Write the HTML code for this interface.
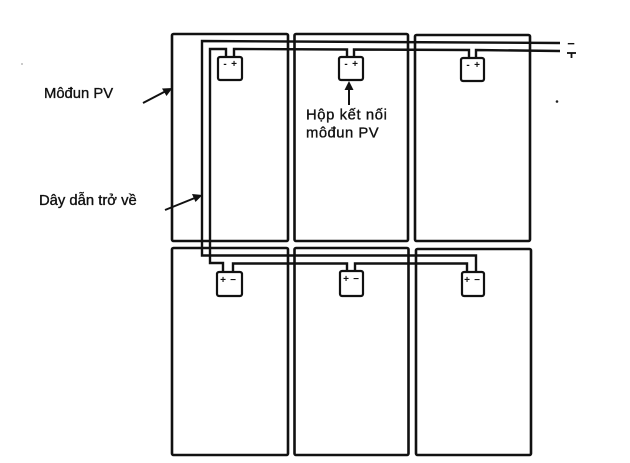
<!DOCTYPE html>
<html><head><meta charset="utf-8"><style>
html,body{margin:0;padding:0;background:#fff;}
svg{display:block;}
text{font-family:"Liberation Sans",Arial,sans-serif;fill:#111;}
</style></head><body>
<svg width="630" height="463" viewBox="0 0 630 463" xmlns="http://www.w3.org/2000/svg">
<g fill="none" stroke="#111" stroke-width="2.6" stroke-linejoin="round">
  <!-- panels top row -->
  <rect x="172" y="34" width="116" height="207" rx="1.5"/>
  <rect x="294.5" y="34" width="113.5" height="207" rx="1.5"/>
  <rect x="415" y="35" width="115" height="206" rx="1.5"/>
  <!-- panels bottom row -->
  <rect x="172" y="248" width="116" height="207" rx="1.5"/>
  <rect x="294.5" y="248" width="114" height="207" rx="1.5"/>
  <rect x="416" y="249" width="115" height="206" rx="1.5"/>
</g>
<g fill="none" stroke="#111" stroke-width="2.4" stroke-linejoin="miter">
  <!-- return wire -->
  <polyline points="560,43 202,41 202,255.5 476,255.5 476,272"/>
  <!-- series chain -->
  <polyline points="223,272 223,263 210,263 210,49 226,49 226,57"/>
  <polyline points="234,57 234,49 347,49.5 347,57"/>
  <polyline points="354,57 354,49.5 469,50 469,58"/>
  <polyline points="476,58 476,50 560,51"/>
  <polyline points="233,272 233,263.5 347,263.5 347,271"/>
  <polyline points="355,271 355,263.5 467,263.5 467,272"/>
</g>
<!-- junction boxes -->
<g fill="#fff" stroke="#111" stroke-width="2.2">
  <rect x="218" y="57" width="24" height="23" rx="2"/>
  <rect x="339" y="57" width="24" height="23" rx="2"/>
  <rect x="461" y="58" width="23" height="23" rx="2"/>
  <rect x="217" y="272" width="25" height="24" rx="2"/>
  <rect x="340" y="271" width="23" height="25" rx="2"/>
  <rect x="462" y="272" width="22" height="24" rx="2"/>
</g>
<!-- signs -->
<g font-size="10" font-weight="bold" text-anchor="middle">
  <text x="225" y="67">-</text><text x="234" y="67">+</text>
  <text x="346" y="67">-</text><text x="355" y="67">+</text>
  <text x="468" y="68">-</text><text x="477" y="68">+</text>
  <text x="223" y="283">+</text><text x="233" y="283">−</text>
  <text x="346" y="282">+</text><text x="356" y="282">−</text>
  <text x="467" y="283">+</text><text x="477" y="283">−</text>
</g>
<!-- output terminals -->
<text x="571" y="48" font-size="13" text-anchor="middle" font-weight="bold">−</text>
<g stroke="#111" stroke-width="1.8">
  <line x1="567" y1="53" x2="576" y2="53"/>
  <line x1="571.5" y1="53" x2="571.5" y2="58"/>
</g>
<circle cx="557" cy="101.5" r="1.3" fill="#222"/>
<circle cx="22" cy="64" r="1" fill="#bbb"/>
<!-- arrows -->
<g stroke="#111" stroke-width="2" fill="none">
  <line x1="349" y1="105" x2="349" y2="86"/>
  <line x1="143" y1="103" x2="166" y2="91"/>
  <line x1="165" y1="210" x2="196" y2="197.5"/>
</g>
<g fill="#111">
  <polygon points="349,81 344.5,90 353.5,90"/>
  <polygon points="172.5,88 162,88.5 166.5,96"/>
  <polygon points="202.5,195 192,194 195.5,202"/>
</g>
<!-- labels -->
<g font-size="14.8" stroke="#111" stroke-width="0.35">
<text x="44" y="98">Môđun PV</text>
<text x="39" y="205">Dây dẫn trở về</text>
<text x="306" y="119.5" letter-spacing="0.6">Hộp kết nối</text>
<text x="306" y="137.5" letter-spacing="0.5">môđun PV</text>
</g>
</svg>
</body></html>
